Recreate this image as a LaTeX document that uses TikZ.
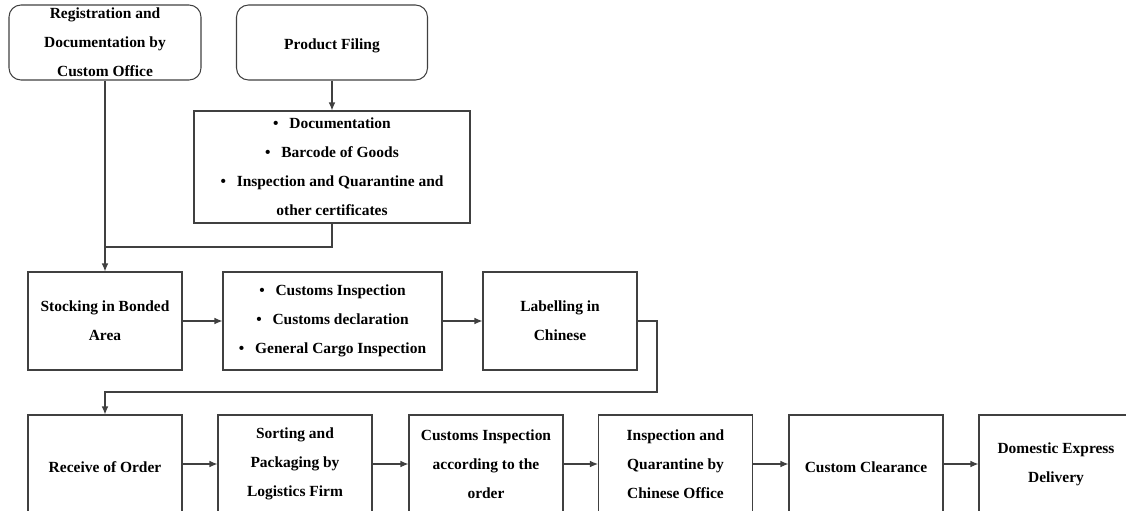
\documentclass[tikz,border=0pt]{standalone}
\usepackage{fontspec}
\setmainfont{Liberation Serif}
\usetikzlibrary{arrows.meta}

\begin{document}
\begin{tikzpicture}[x=0.75pt,y=-0.75pt]
\tikzstyle{boxtext}=[align=center, inner sep=0pt, font=\bfseries\fontsize{11.6}{21.75}\selectfont, execute at begin node={\rule{0pt}{12.6pt}}]
\tikzstyle{roundbox}=[boxtext, draw=black!75, line width=0.8pt, rounded corners=9pt, minimum height=56.25pt]
\tikzstyle{stepbox}=[boxtext, draw=black!75, line width=0.8pt, minimum width=115.5pt, minimum height=73.5pt]
\tikzstyle{arr}=[draw=black!75, line width=0.8pt, -{Latex[length=6pt,width=5pt]}]
\tikzstyle{conn}=[draw=black!75, line width=0.8pt]

\clip (0,0) rectangle (1126,510);

\node (reg) at (105,42.5) [roundbox, minimum width=144pt] {Registration and\\Documentation by\\Custom Office};
\node (prod) at (332,42.5) [roundbox, minimum width=143.25pt] {Product Filing};
\node (docs) at (332,167) [stepbox, minimum width=207pt, minimum height=84pt] {\textbullet\hspace{0.7em}Documentation\\\textbullet\hspace{0.7em}Barcode of Goods\\\textbullet\hspace{0.7em}Inspection and Quarantine and\\other certificates};

\node (stock) at (105,321) [stepbox] {Stocking in Bonded\\Area};
\node (cinsp) at (332.5,321) [stepbox, minimum width=164.25pt] {\textbullet\hspace{0.7em}Customs Inspection\\\textbullet\hspace{0.7em}Customs declaration\\\textbullet\hspace{0.7em}General Cargo Inspection};
\node (label) at (560,321) [stepbox] {Labelling in\\Chinese};

\node (order) at (105,464) [stepbox] {Receive of Order};
\node (sort) at (295,464) [stepbox] {Sorting and\\Packaging by\\Logistics Firm};
\node (check) at (486,464) [stepbox] {Customs Inspection\\according to the\\order};
\node (quar) at (675.5,464) [stepbox] {Inspection and\\Quarantine by\\Chinese Office};
\node (clear) at (866,464) [stepbox] {Custom Clearance};
\node (deliv) at (1056,464) [stepbox] {Domestic Express\\Delivery};

\coordinate (join) at (105,247);
\coordinate (turn) at (657,392);

\draw[arr] (prod) -- (docs);
\draw[conn] (docs.south) |- (join);
\draw[arr] (reg) -- (stock);

\draw[arr] (stock) -- (cinsp);
\draw[arr] (cinsp) -- (label);
\draw[arr] (label.east) -| (turn) -| (order.north);

\draw[arr] (order) -- (sort);
\draw[arr] (sort) -- (check);
\draw[arr] (check) -- (quar);
\draw[arr] (quar) -- (clear);
\draw[arr] (clear) -- (deliv);
\end{tikzpicture}
\end{document}
